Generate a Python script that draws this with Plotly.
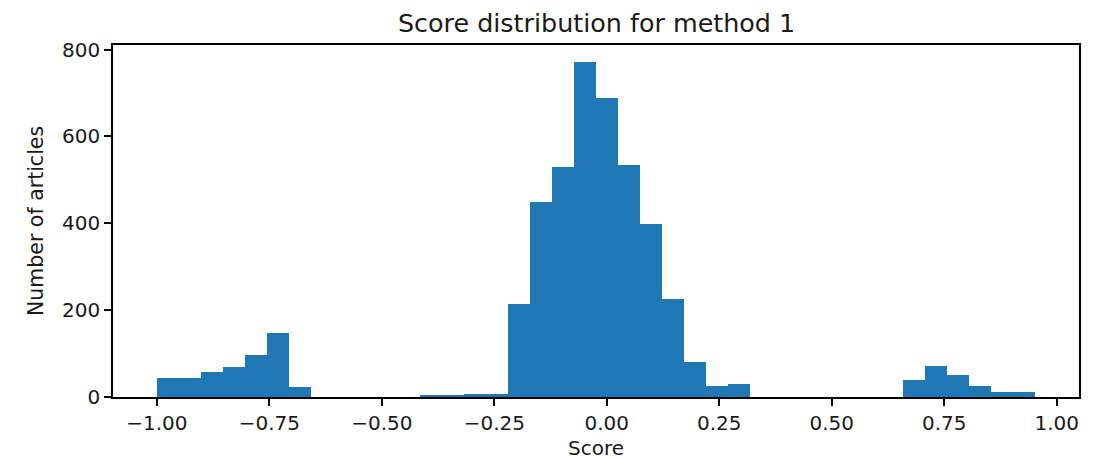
import plotly.graph_objects as go

# Histogram data (40 bins from -1.0 to ~0.952)
bin_start = -1.0
bin_width = 0.0488
counts = [43, 43, 57, 68, 96, 148, 22, 0, 0, 0,
          0, 0, 5, 5, 8, 8, 215, 450, 530, 772,
          689, 534, 398, 226, 81, 26, 29, 0, 0, 0,
          0, 0, 0, 0, 40, 71, 51, 26, 12, 12]
x_ticks = [-1.0, -0.75, -0.5, -0.25, 0.0, 0.25, 0.5, 0.75, 1.0]
x_tick_labels = ["\u22121.00", "\u22120.75", "\u22120.50", "\u22120.25", "0.00", "0.25", "0.50", "0.75", "1.00"]
y_ticks = [0, 200, 400, 600, 800]

centers = [bin_start + (i + 0.5) * bin_width for i in range(len(counts))]

font = "DejaVu Sans"
txt = "#1a1a1a"
fig = go.Figure(go.Bar(
    x=centers, y=counts, width=[bin_width] * len(counts),
    marker=dict(color="#1f77b4", line=dict(width=0)),
    hoverinfo="x+y",
))

axis_common = dict(
    showline=True, linecolor="black", linewidth=1.5, mirror=True,
    ticks="outside", ticklen=7, tickwidth=1.5, tickcolor="black",
    showgrid=False, zeroline=False, automargin=False,
    tickfont=dict(family=font, size=20, color=txt),
)

fig.update_layout(
    width=1090, height=452,
    margin=dict(l=105, r=19, t=37, b=63),
    paper_bgcolor="white", plot_bgcolor="white",
    bargap=0, showlegend=False,
    xaxis=dict(range=[-1.0976, 1.0496], tickvals=x_ticks, ticktext=x_tick_labels, **axis_common),
    yaxis=dict(range=[0, 810.6], tickvals=y_ticks, **axis_common),
    annotations=[
        dict(text="Score distribution for method 1", xref="paper", yref="paper",
             x=0.5, y=1, xanchor="center", yanchor="bottom", yshift=5,
             showarrow=False, font=dict(family=font, size=25.4, color=txt)),
        dict(text="Score", xref="paper", yref="paper",
             x=0.5, y=0, xanchor="center", yanchor="middle", yshift=-51,
             showarrow=False, font=dict(family=font, size=20, color=txt)),
        dict(text="Number of articles", xref="paper", yref="paper", textangle=-90,
             x=0, y=0.5, xanchor="center", yanchor="middle", xshift=-77,
             showarrow=False, font=dict(family=font, size=20.5, color=txt)),
    ],
)

fig.write_html("out.html")
